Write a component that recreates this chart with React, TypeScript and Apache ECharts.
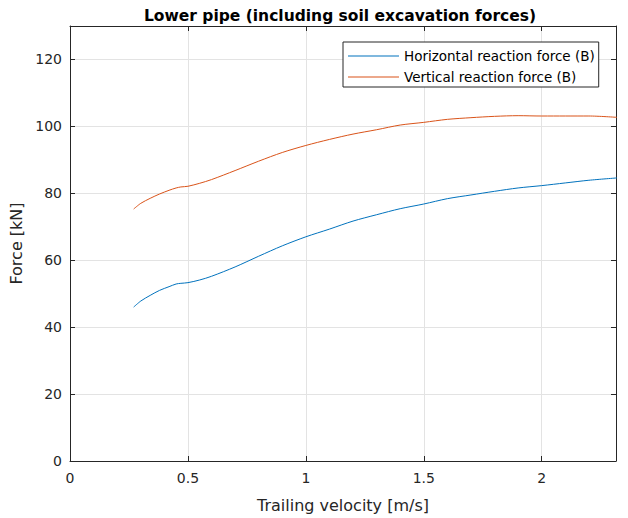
import React, { useEffect, useRef } from "react";
import * as echarts from "echarts";

const velocity = [0.27, 0.30, 0.34, 0.38, 0.42, 0.45, 0.47, 0.50, 0.55, 0.60, 0.70, 0.80, 0.90, 1.00, 1.10, 1.20, 1.30, 1.40, 1.50, 1.60, 1.70, 1.80, 1.90, 2.00, 2.10, 2.20, 2.32];
const horizontalForce = [46.0, 47.8, 49.5, 51.0, 52.1, 52.9, 53.1, 53.3, 54.1, 55.2, 58.0, 61.2, 64.3, 67.0, 69.3, 71.7, 73.6, 75.4, 76.8, 78.4, 79.5, 80.6, 81.6, 82.3, 83.1, 83.9, 84.6];
const verticalForce = [75.3, 77.0, 78.5, 79.8, 80.9, 81.6, 81.9, 82.1, 83.0, 84.1, 86.8, 89.6, 92.2, 94.3, 96.1, 97.7, 99.0, 100.4, 101.2, 102.1, 102.6, 103.0, 103.2, 103.1, 103.1, 103.1, 102.7];
const seriesNames = ["Horizontal reaction force (B)", "Vertical reaction force (B)"];
const seriesColors = ["#0072BD", "#D95319"];
const titleText = "Lower pipe (including soil excavation forces)";
const xLabel = "Trailing velocity [m/s]";
const yLabel = "Force [kN]";
const X_MAX = 2.315;
const Y_MAX = 130;

const FONT = "'DejaVu Sans', sans-serif";
const AXC = "#262626";
const GRIDC = "#e3e3e3";
const LEGEND_ICON = "path://M0,0L51,0L51,1L0,1Z";

export default function App() {
  const ref = useRef<HTMLDivElement>(null);
  useEffect(() => {
    if (!ref.current) return;
    const chart = echarts.init(ref.current, undefined, { renderer: "svg" });
    const fmtX = (v: number) => {
      const r = Math.round(v * 2) / 2;
      return Math.abs(r - v) < 1e-6 ? String(r) : "";
    };
    chart.setOption({
      animation: false,
      backgroundColor: "#ffffff",
      textStyle: { fontFamily: FONT },
      title: {
        text: titleText,
        left: 335,
        textAlign: "center",
        top: 3,
        textStyle: { fontFamily: FONT, fontSize: 15.5, fontWeight: "bold", color: "#000" },
      },
      legend: {
        orient: "vertical",
        left: 343,
        top: 42,
        padding: [7, 4, 3, 5],
        itemGap: 7,
        itemWidth: 51,
        itemHeight: 14,
        icon: LEGEND_ICON,
        borderColor: AXC,
        borderWidth: 1,
        backgroundColor: "#fff",
        textStyle: { fontFamily: FONT, fontSize: 13.5, lineHeight: 14, color: "#000" },
        data: seriesNames,
      },
      grid: { left: 64, right: 12, top: 26, bottom: 57, containLabel: false },
      xAxis: [
        {
          type: "value",
          min: 0,
          max: X_MAX,
          interval: 0.5,
          position: "bottom",
          name: xLabel,
          nameLocation: "middle",
          nameGap: 36,
          nameTextStyle: { fontFamily: FONT, fontSize: 16, color: AXC },
          axisLine: { show: true, onZero: false, lineStyle: { color: AXC, width: 1 } },
          axisTick: { show: true, inside: true, length: 5, lineStyle: { color: AXC } },
          axisLabel: { formatter: fmtX, fontFamily: FONT, fontSize: 14, color: AXC, margin: 10, showMaxLabel: false },
          splitLine: { show: true, lineStyle: { color: GRIDC, width: 1 } },
        },
        {
          type: "value",
          min: 0,
          max: X_MAX,
          interval: 0.5,
          position: "top",
          axisLine: { show: true, onZero: false, lineStyle: { color: AXC, width: 1 } },
          axisTick: { show: true, inside: true, length: 5, lineStyle: { color: AXC } },
          axisLabel: { show: false },
          splitLine: { show: false },
        },
      ],
      yAxis: [
        {
          type: "value",
          min: 0,
          max: Y_MAX,
          interval: 20,
          position: "left",
          name: yLabel,
          nameLocation: "middle",
          nameGap: 46,
          nameTextStyle: { fontFamily: FONT, fontSize: 16, color: AXC },
          axisLine: { show: true, onZero: false, lineStyle: { color: AXC, width: 1 } },
          axisTick: { show: true, inside: true, length: 5, lineStyle: { color: AXC } },
          axisLabel: {
            formatter: (v: number) => (v % 20 === 0 ? String(v) : ""),
            fontFamily: FONT,
            fontSize: 14,
            color: AXC,
            margin: 8,
          },
          splitLine: { show: true, lineStyle: { color: GRIDC, width: 1 } },
        },
        {
          type: "value",
          min: 0,
          max: Y_MAX,
          interval: 20,
          position: "right",
          axisLine: { show: true, onZero: false, lineStyle: { color: AXC, width: 1 } },
          axisTick: { show: true, inside: true, length: 5, lineStyle: { color: AXC } },
          axisLabel: { show: false },
          splitLine: { show: false },
        },
      ],
      series: [
        {
          name: seriesNames[0],
          type: "line",
          xAxisIndex: 0,
          yAxisIndex: 0,
          data: velocity.map((v, i) => [v, horizontalForce[i]]),
          symbol: "none",
          smooth: 0.3,
          clip: true,
          lineStyle: { color: seriesColors[0], width: 1 },
          itemStyle: { color: seriesColors[0] },
        },
        {
          name: seriesNames[1],
          type: "line",
          xAxisIndex: 0,
          yAxisIndex: 0,
          data: velocity.map((v, i) => [v, verticalForce[i]]),
          symbol: "none",
          smooth: 0.3,
          clip: true,
          lineStyle: { color: seriesColors[1], width: 1 },
          itemStyle: { color: seriesColors[1] },
        },
      ],
    });
    return () => chart.dispose();
  }, []);
  return <div ref={ref} style={{ width: 628, height: 518, position: "absolute", left: 0, top: 0 }} />;
}
